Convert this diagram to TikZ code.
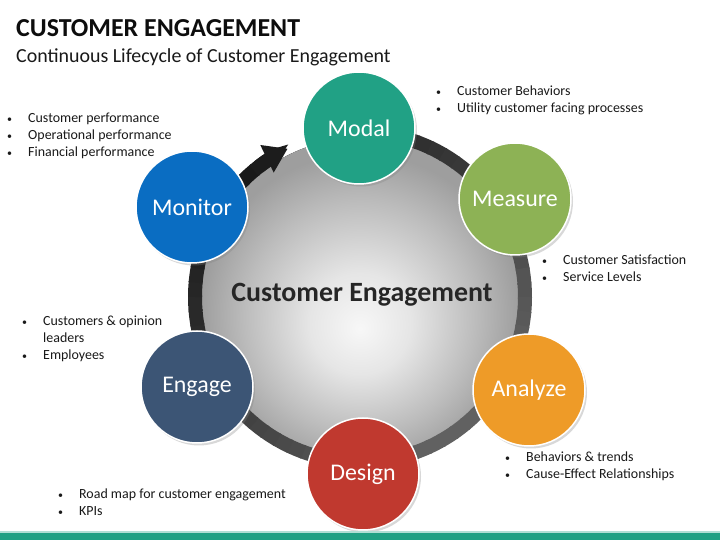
\documentclass[tikz,border=0pt]{standalone}
\usepackage{fontspec}
\setmainfont{Carlito}
\usetikzlibrary{arrows.meta, shadows}

\pgfdeclareradialshading{diskshade}{\pgfpoint{0bp}{-5bp}}{color(0bp)=(black!3); color(8bp)=(black!10); color(18bp)=(black!26); color(25bp)=(black!38); color(50bp)=(black!40)}
\newcommand{\blt}{\makebox[22bp][l]{\hspace{1bp}\raisebox{0.5bp}{\fontsize{10}{10}\selectfont\textbullet}}}

\begin{document}
\begin{tikzpicture}[
  x=1bp, y=1bp,
  stage/.style={circle, draw=white, line width=1.5bp, minimum size=112bp,
                inner sep=0pt, text=white, font=\fontsize{24}{28}\selectfont,
                drop shadow={opacity=0.3, shadow xshift=2bp, shadow yshift=-2.5bp}},
  notes/.style={anchor=base west, inner sep=0pt, text=black!90,
                font=\fontsize{14}{17}\selectfont},
  ring/.style={line width=14bp},
]
\definecolor{cmodal}{HTML}{21A185}
\definecolor{cmeasure}{HTML}{8DB255}
\definecolor{canalyze}{HTML}{EE9B28}
\definecolor{cdesign}{HTML}{C0392F}
\definecolor{cengage}{HTML}{3C5575}
\definecolor{cmonitor}{HTML}{0A6DC2}
\definecolor{cbar}{HTML}{20A083}
\useasboundingbox (0,0) rectangle (720,540);
\fill[white] (0,0) rectangle (720,540);
% title
\node[anchor=base west, inner sep=0pt, text=black!95,
      font=\bfseries\fontsize{26}{30}\selectfont] (title) at (16,503) {CUSTOMER ENGAGEMENT};
\node[anchor=base west, inner sep=0pt, text=black!90,
      font=\fontsize{20}{24}\selectfont] (subtitle) at (16,477) {Continuous Lifecycle of Customer Engagement};
% hub and ring
\coordinate (hub) at (360,243);
\fill[shading=diskshade] (hub) circle[radius=159];
\foreach \a in {95,90,...,-230} {
  \pgfmathtruncatemacro{\tone}{76+14*cos(\a-135)}
  \draw[ring, black!\tone] (hub) ++(\a:165) arc[start angle=\a, delta angle=-5.6, radius=165];
}
\draw[ring, black!89, -{Triangle[length=23bp, width=29bp]}]
  (hub) ++(-232:165) arc[start angle=-232, end angle=-244, radius=165];
\node[text=black!85, font=\bfseries\fontsize{28}{32}\selectfont] (core) at (362,245) {Customer Engagement};
% stages
\node[stage, fill=cmodal] (modal) at (359,412) {Modal};
\node[stage, fill=cmeasure] (measure) at (515,341) {Measure};
\node[stage, fill=canalyze] (analyze) at (529,150) {Analyze};
\node[stage, fill=cdesign] (design) at (363,66) {Design};
\node[stage, fill=cengage] (engage) at (197,153) {Engage};
\node[stage, fill=cmonitor] (monitor) at (192,333) {Monitor};
% bullet notes
\node[notes] (monitornotes) at (6,417) {\begin{tabular}[t]{@{}l@{}}
  \blt Customer performance\\ \blt Operational performance\\ \blt Financial performance\end{tabular}};
\node[notes] (modalnotes) at (435,444) {\begin{tabular}[t]{@{}l@{}}
  \blt Customer Behaviors\\ \blt Utility customer facing processes\end{tabular}};
\node[notes] (measurenotes) at (541,275) {\begin{tabular}[t]{@{}l@{}}
  \blt Customer Satisfaction\\ \blt Service Levels\end{tabular}};
\node[notes] (engagenotes) at (21,214) {\begin{tabular}[t]{@{}l@{}}
  \blt Customers \& opinion\\ \hspace*{22bp}leaders\\ \blt Employees\end{tabular}};
\node[notes] (analyzenotes) at (504,78) {\begin{tabular}[t]{@{}l@{}}
  \blt Behaviors \& trends\\ \blt Cause-Effect Relationships\end{tabular}};
\node[notes] (designnotes) at (57,41) {\begin{tabular}[t]{@{}l@{}}
  \blt Road map for customer engagement\\ \blt KPIs\end{tabular}};
% footer bar
\fill[cbar!35] (0,7) rectangle (720,9);
\fill[cbar] (0,0) rectangle (720,7);
\end{tikzpicture}
\end{document}
